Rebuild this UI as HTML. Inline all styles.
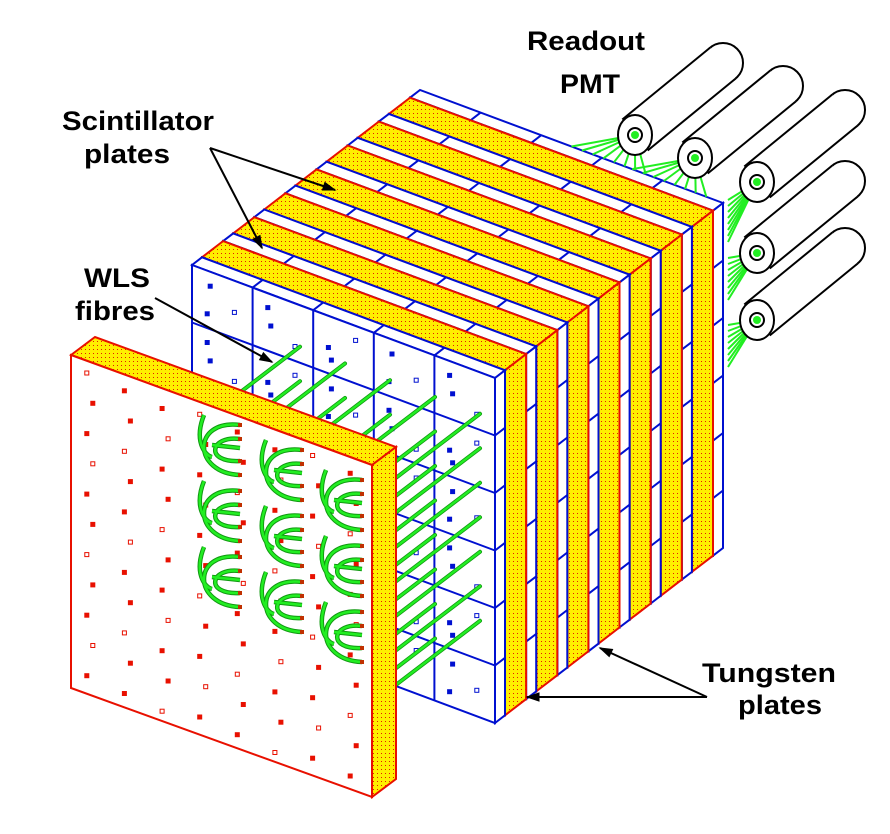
<!DOCTYPE html>
<html><head><meta charset="utf-8">
<style>
html,body{margin:0;padding:0;background:#fff;width:890px;height:834px;overflow:hidden}
svg{display:block}
text{font-family:"Liberation Sans",sans-serif;font-weight:bold;fill:#000}
</style></head>
<body>
<svg id="s" width="890" height="834" viewBox="0 0 890 834" xmlns="http://www.w3.org/2000/svg">
<defs>
<pattern id="tg" width="4" height="4" patternUnits="userSpaceOnUse">
<rect width="4" height="4" fill="#ffee00"/>
<rect x="1" y="1" width="1" height="1" fill="#e02000"/>
</pattern>
</defs>
<g id="g"></g>
<g id="labels" font-size="27">
<text x="62" y="130" textLength="152" lengthAdjust="spacingAndGlyphs">Scintillator</text>
<text x="84" y="163" textLength="86" lengthAdjust="spacingAndGlyphs">plates</text>
<text x="84" y="287" textLength="66" lengthAdjust="spacingAndGlyphs">WLS</text>
<text x="75" y="320" textLength="80" lengthAdjust="spacingAndGlyphs">fibres</text>
<text x="527" y="50" textLength="118" lengthAdjust="spacingAndGlyphs">Readout</text>
<text x="560" y="93" textLength="60" lengthAdjust="spacingAndGlyphs">PMT</text>
<text x="702" y="682" textLength="134" lengthAdjust="spacingAndGlyphs">Tungsten</text>
<text x="738" y="714" textLength="84" lengthAdjust="spacingAndGlyphs">plates</text>
</g>
</svg>
<script>
(function(){
var g=document.getElementById('g');var out='';
function pt(p){return p[0].toFixed(1)+','+p[1].toFixed(1);}
function add(a,b){return [a[0]+b[0],a[1]+b[1]];}
function mul(a,k){return [a[0]*k,a[1]*k];}
function poly(ps,fill,stroke,sw){out+='<polygon points="'+ps.map(pt).join(' ')+'" fill="'+fill+'" stroke="'+stroke+'" stroke-width="'+(sw||2)+'" stroke-linejoin="miter"/>';}
function line(a,b,c,w,extra){out+='<line x1="'+a[0].toFixed(1)+'" y1="'+a[1].toFixed(1)+'" x2="'+b[0].toFixed(1)+'" y2="'+b[1].toFixed(1)+'" stroke="'+c+'" stroke-width="'+(w||2)+'" '+(extra||'')+'/>';}
var P=[192,265],W=[303,113],H=[0,345],D=[228,-175];
function o(d){return mul(D,d/228);}
var L=[];var d=0;
for(var k=0;k<8;k++){L.push([d,d+10,'s']);d+=10;if(k<7){L.push([d,d+21,'t']);d+=21;}}
var tot=d;L=L.map(function(l){return [l[0]*228/tot,l[1]*228/tot,l[2]];});
for(var i=L.length-1;i>=0;i--){
 var l=L[i],a=add(P,o(l[0])),b=add(P,o(l[1]));
 var isS=l[2]=='s';
 var fill=isS?'#fff':'url(#tg)',st=isS?'#0010d0':'#e81000';
 poly([a,b,add(b,W),add(a,W)],fill,st,2);
 poly([add(a,W),add(b,W),add(add(b,W),H),add(add(a,W),H)],fill,st,2);
 if(isS){
  for(var c=1;c<5;c++){var wa=add(a,mul(W,c/5)),wb=add(b,mul(W,c/5));line(wa,wb,'#0010d0',2);}
  for(var r=1;r<6;r++){var ha=add(add(a,W),mul(H,r/6)),hb=add(add(b,W),mul(H,r/6));line(ha,hb,'#0010d0',2);}
 }
 poly([a,add(a,W),add(add(a,W),H),add(a,H)],fill,st,2);
 if(i==0){
  for(var c=1;c<5;c++)line(add(a,mul(W,c/5)),add(add(a,mul(W,c/5)),H),'#0010d0',2);
  for(var r=1;r<6;r++)line(add(a,mul(H,r/6)),add(add(a,W),mul(H,r/6)),'#0010d0',2);
  for(var c=0;c<5;c++)for(var r=0;r<6;r++){
   var q=[[0.3,0.25],[0.7,0.55],[0.25,0.75]];
   for(var m=0;m<3;m++){var p=add(add(a,mul(W,(c+q[m][0])/5)),mul(H,(r+q[(m+c+r)%3][1])/6));
    out+='<rect x="'+(p[0]-2).toFixed(1)+'" y="'+(p[1]-2).toFixed(1)+'" width="4" height="4" fill="'+(m==1?'none':'#0010d0')+'" stroke="#0010d0" stroke-width="1"/>';}
  }
 }
}
var pm=[[635,135],[695,158],[757,182],[757,253],[757,320]];
var BT=add(P,o(228));
var gc='#22ee22';
function fan(c,srcs){srcs.forEach(function(s){line(s,c,gc,2);});}
var s1=[],s2=[];
for(var j=0;j<8;j++){s1.push(add(BT,mul(W,0.5+0.035*j)));s2.push(add(BT,mul(W,0.7+0.035*j)));}
fan(pm[0],s1);fan(pm[1],s2);
for(var k=2;k<5;k++){var ss=[];var y0=[200,258,325][k-2];for(var j=0;j<8;j++)ss.push([728,y0+j*6]);fan(pm[k],ss);}
for(var j=0;j<5;j++)for(var i2=0;i2<8;i2++){
 var x=300+j*45,y=265+113*(x-192)/303+345*(0.12+0.1*i2);
 if(y>650)continue;
 var e=[x-105,y+80];
 line([x,y],e,'#119911',4,'stroke-linecap="round"');
 line([x,y],e,gc,2.4,'stroke-linecap="round"');
}
pm.forEach(function(C){
 var A=[88,-72],r=20,n=[72/113.7*r,88/113.7*r];
 var Bk=add(C,A);
 out+='<circle cx="'+Bk[0]+'" cy="'+Bk[1]+'" r="'+r+'" fill="#fff" stroke="#000" stroke-width="2"/>';
 poly([add(C,n),add(Bk,n),add(Bk,mul(n,-1)),add(C,mul(n,-1))],'#fff','none',0);
 line(add(C,n),add(Bk,n),'#000',2);line(add(C,mul(n,-1)),add(Bk,mul(n,-1)),'#000',2);
 out+='<ellipse cx="'+C[0]+'" cy="'+C[1]+'" rx="17" ry="20" fill="#fff" stroke="#000" stroke-width="2"/>';
 out+='<circle cx="'+C[0]+'" cy="'+C[1]+'" r="7" fill="#fff" stroke="#000" stroke-width="2"/>';
 out+='<circle cx="'+C[0]+'" cy="'+C[1]+'" r="4" fill="'+gc+'"/>';
});
var TL=[71,355],TR=[372,465],BR=[372,797],BL=[71,688],T=[24,-18];
poly([TL,add(TL,T),add(TR,T),TR],'url(#tg)','#e81000',2);
poly([TR,add(TR,T),add(BR,T),BR],'url(#tg)','#e81000',2);
poly([TL,TR,BR,BL],'#fff','#e81000',2);
for(var c=0;c<8;c++)for(var r=0;r<11;r++){
 var u=(c+0.5)/8,v=(r+0.5)/11;
 var p=[TL[0]+301*u+((r%2)*6-3),TL[1]+110*u+333*v+((c%3)*4-4)];
 var hole=((c+r)%3==0);
 out+='<rect x="'+(p[0]-2).toFixed(1)+'" y="'+(p[1]-2).toFixed(1)+'" width="4" height="4" fill="'+(hole?'none':'#e81000')+'" stroke="#e81000" stroke-width="1"/>';
}
var cols=[[200,445],[262,470],[322,500]];
cols.forEach(function(cc){for(var r=0;r<3;r++){
 var x=cc[0],y=cc[1]+r*66;
 var pth='M'+(x+40)+','+(y-20)+' C'+(x-8)+','+(y-26)+' '+(x-8)+','+(y+28)+' '+(x+40)+','+(y+30)+
  ' M'+(x+40)+','+(y-6)+' C'+(x+10)+','+(y-10)+' '+(x+4)+','+(y+18)+' '+(x+40)+','+(y+16)+
  ' M'+(x+4)+','+(y-30)+' C'+(x-6)+','+(y-5)+' '+(x+4)+','+(y+10)+' '+(x+12)+','+(y+12)+
  ' M'+(x+12)+','+(y)+' L'+(x+40)+','+(y+3);
 out+='<path d="'+pth+'" fill="none" stroke="#119911" stroke-width="4.5"/>';
 out+='<path d="'+pth+'" fill="none" stroke="'+gc+'" stroke-width="2.5"/>';
 [[x+40,y-20],[x+40,y-6],[x+40,y+16],[x+40,y+30]].forEach(function(q){out+='<rect x="'+(q[0]-2)+'" y="'+(q[1]-2)+'" width="4" height="4" fill="#c03000"/>';});
}});
function arrow(a,b){line(a,b,'#000',2);var dx=b[0]-a[0],dy=b[1]-a[1],L2=Math.sqrt(dx*dx+dy*dy);dx/=L2;dy/=L2;
 var h=[b[0]-dx*12,b[1]-dy*12];poly([b,[h[0]-dy*4,h[1]+dx*4],[h[0]+dy*4,h[1]-dx*4]],'#000','#000',1);}
arrow([210,148],[335,190]);arrow([210,148],[262,248]);
arrow([155,298],[272,362]);
arrow([707,697],[527,697]);arrow([707,697],[600,648]);
g.innerHTML=out;
})();
</script>
</body></html>
